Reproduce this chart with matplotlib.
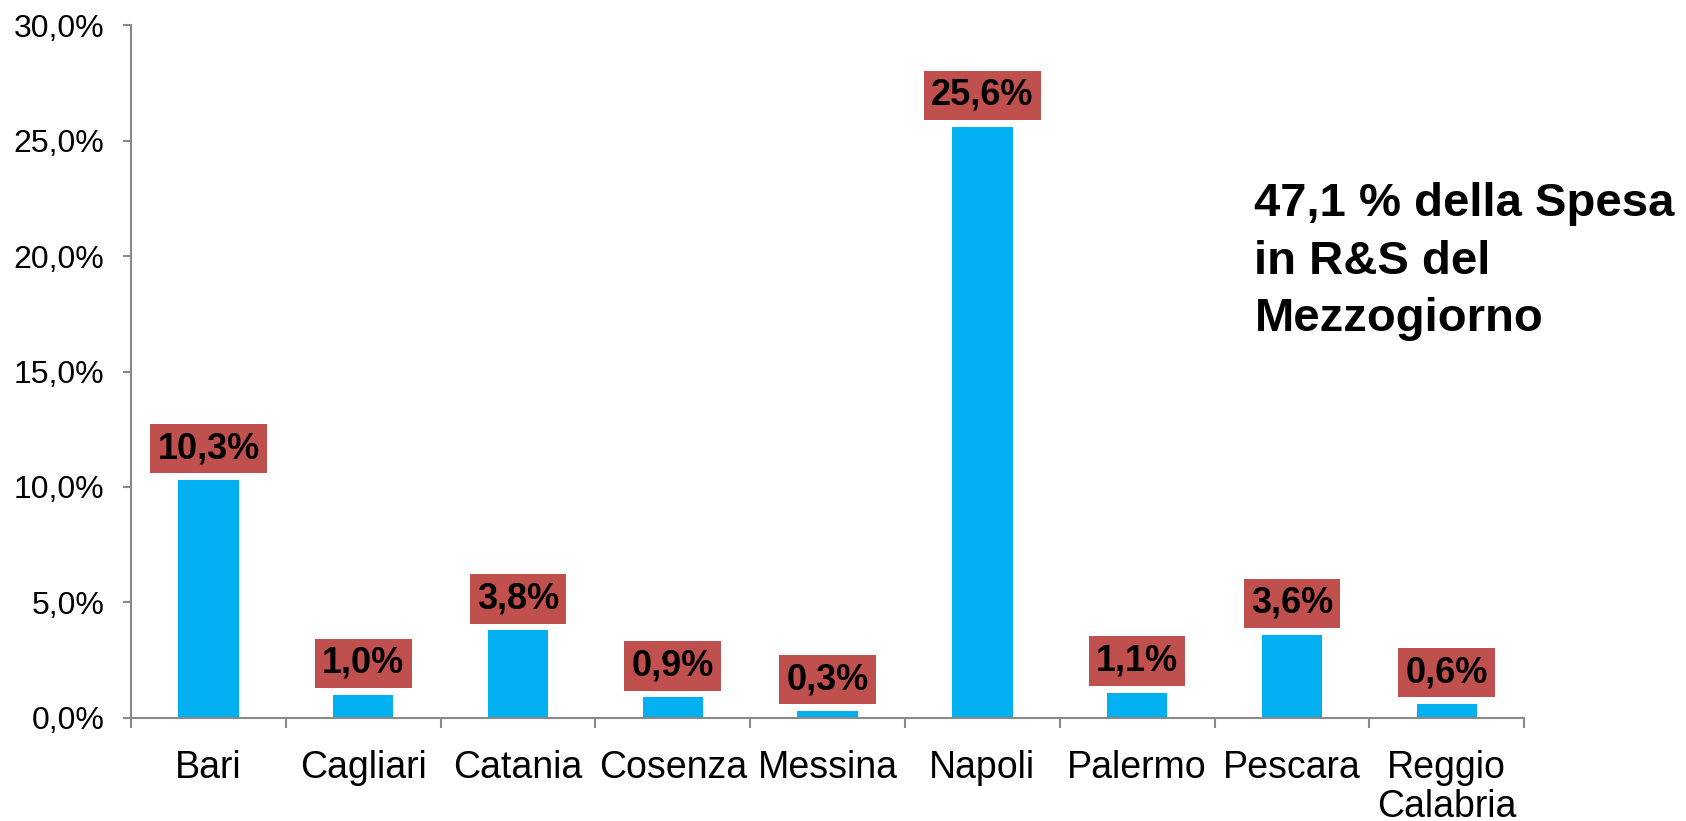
import matplotlib.pyplot as plt
from matplotlib.ticker import FuncFormatter, FixedLocator
import numpy as np

plt.rcParams['font.family'] = ['Liberation Sans', 'DejaVu Sans']

# dati: quota della spesa in R&S per provincia (%)
citta = ['Bari', 'Cagliari', 'Catania', 'Cosenza', 'Messina', 'Napoli',
         'Palermo', 'Pescara', 'Reggio\nCalabria']
quota = [10.3, 1.0, 3.8, 0.9, 0.3, 25.6, 1.1, 3.6, 0.6]
etichette = ['10,3%', '1,0%', '3,8%', '0,9%', '0,3%', '25,6%', '1,1%', '3,6%', '0,6%']
nota = '47,1 % della Spesa\nin R&S del\nMezzogiorno'

grigio = '#898989'

fig = plt.figure(figsize=(16.86, 8.21), dpi=100)
ax = fig.add_axes([0.0777, 0.1255, 0.8263, 0.844])

x = np.arange(len(citta))
ax.bar(x, quota, width=0.39, color='#00B0F0', zorder=2)

# etichette con riquadro rosso sopra le barre
for xi, v, t in zip(x, quota, etichette):
    ax.annotate(t, (xi, v), xytext=(0, 10), textcoords='offset points',
                ha='center', va='bottom', fontsize=26, fontweight='bold',
                bbox=dict(boxstyle='square,pad=0.2', fc='#C0504D', ec='none'))

ax.set_xlim(-0.5, len(citta) - 0.5)
ax.set_ylim(0, 30)
ax.set_yticks(np.arange(0, 31, 5))
ax.yaxis.set_major_formatter(FuncFormatter(lambda v, p: f'{v:.1f}%'.replace('.', ',')))

ax.set_xticks(x)
ax.set_xticklabels(citta, fontsize=27, linespacing=1.1)
ax.xaxis.set_minor_locator(FixedLocator(np.arange(-0.5, len(citta), 1)))
ax.tick_params(axis='x', which='major', length=0, pad=23)
ax.tick_params(axis='x', which='minor', length=7, width=1.5, color=grigio, direction='out')
ax.tick_params(axis='y', labelsize=23, length=6, width=1.5, color=grigio, pad=13)

for s in ['top', 'right']:
    ax.spines[s].set_visible(False)
for s in ['left', 'bottom']:
    ax.spines[s].set_color(grigio)
    ax.spines[s].set_linewidth(1.5)

fig.text(0.744, 0.778, nota, fontsize=34, fontweight='bold', ha='left', va='top',
         linespacing=1.4)

plt.savefig('out.png', dpi=100)
